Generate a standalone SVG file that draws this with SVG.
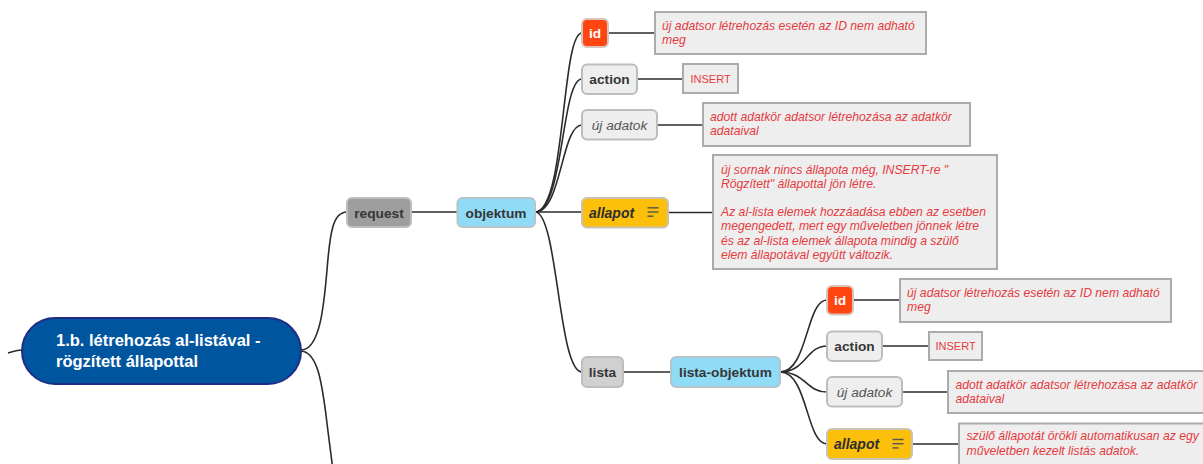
<svg xmlns="http://www.w3.org/2000/svg" width="1203" height="464" viewBox="0 0 1203 464">
<style>
  text { font-family: "Liberation Sans", Arial, sans-serif; }
  .conn { fill: none; stroke: #2b2b2b; stroke-width: 1.6; }
  .node { stroke-width: 2; }
  .gray { fill: #eeeeee; stroke: #bdbdbd; }
  .blue { fill: #90dcf7; stroke: #b5c4ca; }
  .amber { fill: #fcbf0a; stroke: #c9c3b3; }
  .red { fill: #ff4510; stroke: #d9c4bc; }
  .lbl { font-size: 13.7px; font-weight: bold; fill: #363636; }
  .lbl-it { font-size: 13.7px; font-style: italic; fill: #555555; }
  .lbl-bi { font-size: 14px; font-weight: bold; font-style: italic; fill: #2e2e2e; }
  .note { fill: #eeeeee; stroke: #ababab; stroke-width: 2; }
  .nt { font-size: 12.2px; font-style: italic; fill: #e53b3f; }
  .ntr { font-size: 11px; fill: #e53b3f; }
  .icon { stroke: #555555; stroke-width: 1.4; }
</style>

<g id="connectors">
  <path class="conn" d="M8,353 C14,351 17,350 22,350"/>
  <path class="conn" d="M301,350 C320,350 324,305 327,270 C330,232 333,212 347,212"/>
  <path class="conn" d="M301,351 C318,352 322,385 326,415 C329,440 331,455 333,470"/>
  <path class="conn" d="M411,212 L457,212"/>
  <path class="conn" d="M535,212 C566,212 561,33 582,33"/>
  <path class="conn" d="M535,212 C564,212 561,79 582,79"/>
  <path class="conn" d="M535,212 C562,212 561,125 582,125"/>
  <path class="conn" d="M535,212 L582,212"/>
  <path class="conn" d="M535,212 C558,212 558,372 582,372"/>
  <path class="conn" d="M623,372 L671,372"/>
  <path class="conn" d="M780,372 C808,372 806,300 827,300"/>
  <path class="conn" d="M780,372 C806,372 806,346 827,346"/>
  <path class="conn" d="M780,372 C806,372 806,392 827,392"/>
  <path class="conn" d="M780,372 C808,372 806,444 827,444"/>
  <path class="conn" d="M608,33 L655,33"/>
  <path class="conn" d="M637,79 L683,79"/>
  <path class="conn" d="M657,125 L703,125"/>
  <path class="conn" d="M668,212.5 L713,212.5"/>
  <path class="conn" d="M853,300 L900,300"/>
  <path class="conn" d="M882,346 L929,346"/>
  <path class="conn" d="M902,392 L948,392"/>
  <path class="conn" d="M912,444 L959,444"/>
</g>

<g id="root">
  <rect x="22" y="318" width="279" height="66" rx="33" fill="#00559f" stroke="#1f2e85" stroke-width="2"/>
  <text x="56" y="345.5" font-size="16.5" font-weight="bold" fill="#ffffff">1.b. létrehozás al-listával -</text>
  <text x="56" y="367" font-size="16.5" font-weight="bold" fill="#ffffff">rögzített állapottal</text>
</g>

<g id="request">
  <rect class="node" x="347" y="198" width="64" height="29" rx="5" fill="#9e9e9e" stroke="#bdbdbd"/>
  <text class="lbl" x="379" y="217.5" text-anchor="middle">request</text>
</g>

<g id="objektum">
  <rect class="node blue" x="457.5" y="198" width="77.5" height="29" rx="5"/>
  <text class="lbl" x="496" y="217.5" text-anchor="middle">objektum</text>
</g>

<g id="id">
  <rect class="node red" x="582" y="19" width="26" height="28" rx="5"/>
  <text x="595" y="37.5" text-anchor="middle" font-size="13.7" font-weight="bold" fill="#ffffff">id</text>
</g>
<g id="id-note">
  <rect class="note" x="655" y="12" width="271" height="42"/>
  <text class="nt" x="662" y="29.5">új adatsor létrehozás esetén az ID nem adható</text>
  <text class="nt" x="662" y="44">meg</text>
</g>

<g id="action">
  <rect class="node gray" x="582" y="64.5" width="55" height="29.5" rx="5"/>
  <text class="lbl" x="609.5" y="84" text-anchor="middle">action</text>
</g>
<g id="action-note">
  <rect class="note" x="683" y="64" width="55" height="29"/>
  <text class="ntr" x="690.5" y="82.5">INSERT</text>
</g>

<g id="uj-adatok">
  <rect class="node gray" x="582" y="110" width="75" height="29.5" rx="5"/>
  <text class="lbl-it" x="619.5" y="129.5" text-anchor="middle">új adatok</text>
</g>
<g id="uj-adatok-note">
  <rect class="note" x="703" y="103" width="267" height="43"/>
  <text class="nt" x="710" y="120.5">adott adatkör adatsor létrehozása az adatkör</text>
  <text class="nt" x="710" y="135">adataival</text>
</g>

<g id="allapot">
  <rect class="node amber" x="582" y="198" width="86" height="29.5" rx="5"/>
  <text class="lbl-bi" x="589" y="217.5">allapot</text>
  <line class="icon" x1="647.5" y1="207.8" x2="658.5" y2="207.8"/>
  <line class="icon" x1="647.5" y1="212" x2="658.5" y2="212"/>
  <line class="icon" x1="647.5" y1="216.2" x2="653.5" y2="216.2"/>
</g>
<g id="allapot-note">
  <rect class="note" x="713" y="155" width="284" height="114"/>
  <text class="nt" x="721" y="173.5">új sornak nincs állapota még, INSERT-re "</text>
  <text class="nt" x="721" y="187.8">Rögzített" állapottal jön létre.</text>
  <text class="nt" x="721" y="216.2">Az al-lista elemek hozzáadása ebben az esetben</text>
  <text class="nt" x="721" y="230.4">megengedett, mert egy műveletben jönnek létre</text>
  <text class="nt" x="721" y="244.6">és az al-lista elemek állapota mindig a szülő</text>
  <text class="nt" x="721" y="258.8">elem állapotával együtt változik.</text>
</g>

<g id="lista">
  <rect class="node" x="582" y="357" width="41" height="30" rx="5" fill="#d0d0d0" stroke="#bdbdbd"/>
  <text class="lbl" x="602.5" y="377" text-anchor="middle">lista</text>
</g>

<g id="lista-objektum">
  <rect class="node blue" x="671" y="357" width="109" height="30" rx="5"/>
  <text class="lbl" x="725.5" y="377" text-anchor="middle">lista-objektum</text>
</g>

<g id="id2">
  <rect class="node red" x="827" y="286" width="26" height="28.5" rx="5"/>
  <text x="840" y="305" text-anchor="middle" font-size="13.7" font-weight="bold" fill="#ffffff">id</text>
</g>
<g id="id2-note">
  <rect class="note" x="900" y="279" width="271" height="43"/>
  <text class="nt" x="907" y="296.8">új adatsor létrehozás esetén az ID nem adható</text>
  <text class="nt" x="907" y="311.2">meg</text>
</g>

<g id="action2">
  <rect class="node gray" x="827" y="331.5" width="55" height="29.5" rx="5"/>
  <text class="lbl" x="854.5" y="351" text-anchor="middle">action</text>
</g>
<g id="action2-note">
  <rect class="note" x="929" y="332" width="53" height="28"/>
  <text class="ntr" x="935.5" y="350">INSERT</text>
</g>

<g id="uj-adatok2">
  <rect class="node gray" x="827" y="377" width="75" height="29.5" rx="5"/>
  <text class="lbl-it" x="864.5" y="396.5" text-anchor="middle">új adatok</text>
</g>
<g id="uj-adatok2-note">
  <rect class="note" x="948" y="371" width="267" height="42"/>
  <text class="nt" x="955.5" y="388.5">adott adatkör adatsor létrehozása az adatkör</text>
  <text class="nt" x="955.5" y="403">adataival</text>
</g>

<g id="allapot2">
  <rect class="node amber" x="827" y="429" width="85" height="30" rx="5"/>
  <text class="lbl-bi" x="834" y="449">allapot</text>
  <line class="icon" x1="892.5" y1="439.5" x2="903.5" y2="439.5"/>
  <line class="icon" x1="892.5" y1="443.7" x2="903.5" y2="443.7"/>
  <line class="icon" x1="892.5" y1="447.9" x2="898.5" y2="447.9"/>
</g>
<g id="allapot2-note">
  <rect class="note" x="959" y="423.5" width="260" height="50"/>
  <text class="nt" x="966.5" y="440">szülő állapotát örökli automatikusan az egy</text>
  <text class="nt" x="966.5" y="454.5">műveletben kezelt listás adatok.</text>
</g>
</svg>
